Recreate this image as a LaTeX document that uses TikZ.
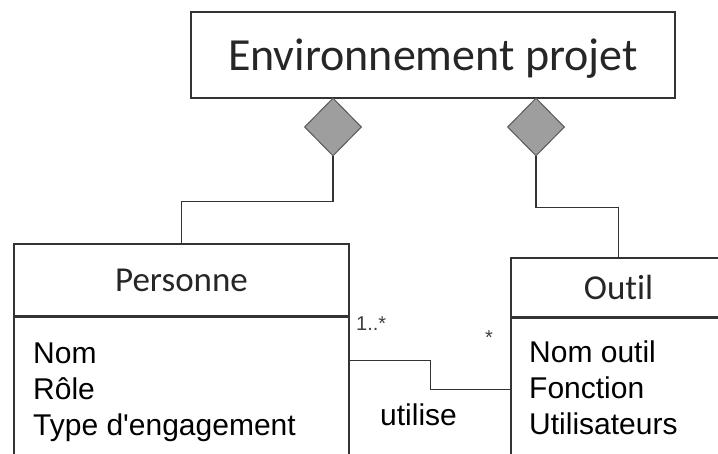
\documentclass[tikz,border=0pt]{standalone}
\usepackage{fontspec}
\setmainfont{Liberation Sans}
\newfontfamily\calib[Ligatures=NoCommon]{Carlito}
\usetikzlibrary{shapes.geometric,calc}
\def\attr{\fontsize{30}{36}\selectfont}
\def\head{\calib\fontsize{35}{40}\selectfont}
\tikzset{
  box/.style={draw=black!80,line width=1.2pt,rectangle,inner sep=0pt,text=black!85},
  agg/.style={diamond,draw=black!65,fill=black!38,line width=1pt,inner sep=0pt,
              minimum width=57pt,minimum height=58pt},
  link/.style={draw=black!80,line width=1.2pt},
  mult/.style={anchor=north west,inner sep=0pt,text=black!75,font=\fontsize{20}{20}\selectfont}
}

\begin{document}
\begin{tikzpicture}[x=1pt,y=-1pt]
  \useasboundingbox (0,0) rectangle (718,454);
  \clip (0,0) rectangle (718,454);
  % whole
  \node[box,minimum width=484pt,minimum height=86pt,text depth=0pt,
        font={\calib\fontsize{46}{50}\selectfont}] (env) at (433,55) {Environnement projet};
  \node[agg] (dl) at (333,127) {};
  \node[agg] (dr) at (536,127) {};
  % classes
  \node[box,minimum width=335pt,minimum height=72pt,font=\head] (perstitle) at (181.5,280) {Personne};
  \node[box,minimum width=335pt,minimum height=160pt,anchor=north] (persbody) at (perstitle.south) {};
  \node[anchor=north west,align=left,inner sep=0pt,font=\attr] (persattr) at (33,343)
        {Nom\\Rôle\\Type d\textquotesingle engagement};
  \node[box,minimum width=215pt,minimum height=59pt,font=\head] (outtitle) at (618.5,287.5) {Outil};
  \node[box,minimum width=215pt,minimum height=160pt,anchor=north] (outbody) at (outtitle.south) {};
  \node[anchor=north west,align=left,inner sep=0pt,font=\attr] (outattr) at (529,341)
        {Nom outil\\Fonction\\Utilisateurs};
  % links
  \draw[link] (dl.south) -- ++(0,45) -| (perstitle.north);
  \draw[link] (dr.south) -- ++(0,51) -| (outtitle.north);
  \draw[link] ($(persbody.north east)+(0,44)$) -- ++(81,0) |- ($(outbody.north west)+(0,72)$);
  \node[mult] (m1) at (356,317) {1..*};
  \node[mult] (m2) at (485,331) {*};
  \node[anchor=base west,inner sep=0pt,font=\attr] (assoc) at (380,425) {utilise};
\end{tikzpicture}
\end{document}
